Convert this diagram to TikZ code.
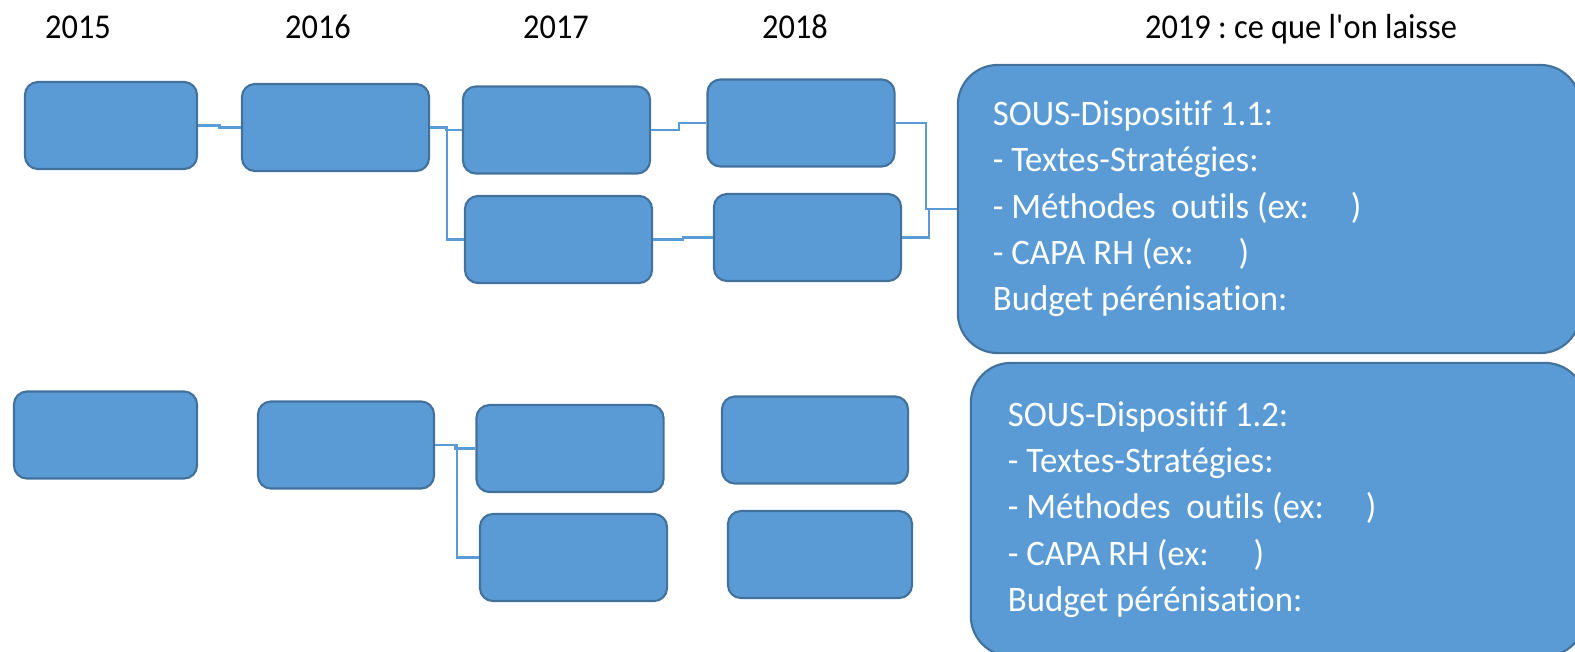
\documentclass[tikz,border=0pt]{standalone}
\usepackage{fontspec}
\setmainfont{Carlito}[FakeStretch=0.97, Ligatures=NoCommon]
\newfontfamily\titrefont{Carlito}[FakeStretch=0.93, Ligatures=NoCommon]
\usepackage{xcolor}
\usetikzlibrary{calc}
\definecolor{bleu}{HTML}{5B9BD5}
\definecolor{bleufonce}{HTML}{41719C}
\frenchspacing

\begin{document}
\begin{tikzpicture}[
  x=0.01cm, y=-0.01cm,
  boite/.style={rectangle, rounded corners=0.13cm, draw=bleufonce, fill=bleu, line width=0.6pt,
                minimum width=1.87cm, minimum height=0.87cm, inner sep=0pt},
  bilan/.style={rectangle, rounded corners=0.4cm, draw=bleufonce, fill=bleu, line width=0.6pt,
                text=white, align=flush left, inner ysep=0pt,
                font=\fontsize{10.2}{13.16}\selectfont},
  annee/.style={anchor=base, font=\titrefont\fontsize{9.9}{12}\selectfont},
  lien/.style={draw=bleu, line width=0.6pt},
  coude/.style={to path={-| ($(\tikztostart)!0.5!(\tikztotarget)$) |- (\tikztotarget)}},
]
\useasboundingbox (0,0) rectangle (1575,651);
\clip (0,0) rectangle (1575,651);

% --- Années ---
\node[annee] (t15) at (78,38)   {2015};
\node[annee] (t16) at (318,38)  {2016};
\node[annee] (t17) at (556,38)  {2017};
\node[annee] (t18) at (795,38)  {2018};
\node[annee] (t19) at (1301,38) {2019 : ce que l\textquotesingle on laisse};

% --- Sous-dispositif 1.1 ---
\node[boite, minimum width=1.72cm] (a1) at (111,125.5) {};
\node[boite] (a2) at (335.5,127.5) {};
\node[boite] (a3) at (556.5,130)   {};
\node[boite] (a4) at (558.5,239.5) {};
\node[boite] (a5) at (801,123)     {};
\node[boite] (a6) at (807.5,237.5) {};
\node[bilan, text width=5.52cm, inner xsep=0.35cm, minimum height=2.88cm] (b1) at (1269,209)
  {SOUS-Dispositif 1.1:\\
   - Textes-Stratégies:\\
   - Méthodes~~outils (ex:\hspace{0.42cm})\\
   - CAPA RH (ex:\hspace{0.45cm})\\
   Budget pérénisation:};

% --- Sous-dispositif 1.2 ---
\node[boite, minimum width=1.83cm] (c1) at (105.5,435) {};
\node[boite, minimum width=1.76cm] (c2) at (346,445)   {};
\node[boite] (c3) at (570,448.5)   {};
\node[boite] (c4) at (573.5,557.5) {};
\node[boite, minimum width=1.86cm] (c5) at (815,440)   {};
\node[boite, minimum width=1.84cm] (c6) at (820,554.5) {};
\node[bilan, text width=5.40cm, inner xsep=0.37cm, minimum height=2.93cm] (b2) at (1278,509.5)
  {SOUS-Dispositif 1.2:\\
   - Textes-Stratégies:\\
   - Méthodes~~outils (ex:\hspace{0.42cm})\\
   - CAPA RH (ex:\hspace{0.45cm})\\
   Budget pérénisation:};

% --- Liens en coude ---
\draw[lien] (a1.east) to[coude] (a2.west);
\draw[lien] (a2.east) to[coude] (a3.west);
\draw[lien] (a2.east) to[coude] (a4.west);
\draw[lien] (a3.east) to[coude] (a5.west);
\draw[lien] (a4.east) to[coude] (a6.west);
\draw[lien] (a5.east) to[coude] (b1.west);
\draw[lien] (a6.east) to[coude] (b1.west);
\draw[lien] (c2.east) to[coude] (c3.west);
\draw[lien] (c2.east) to[coude] (c4.west);

\end{tikzpicture}
\end{document}
